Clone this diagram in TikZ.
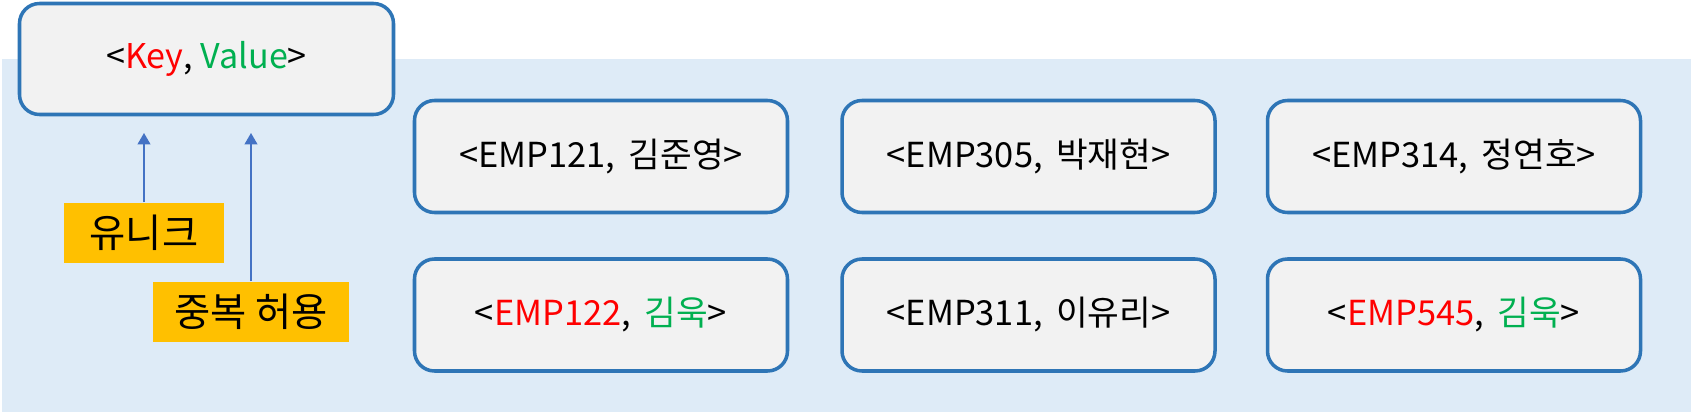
\documentclass[tikz,border=0pt]{standalone}
\usepackage{fontspec}
\setmainfont{Noto Sans CJK KR}
\usetikzlibrary{arrows.meta}
\definecolor{boxline}{RGB}{46,117,182}
\definecolor{boxfill}{RGB}{242,242,242}
\definecolor{bgblue}{RGB}{222,235,247}
\definecolor{tagfill}{RGB}{255,192,0}
\definecolor{keyred}{RGB}{255,0,0}
\definecolor{valgreen}{RGB}{0,176,80}
\definecolor{arrblue}{RGB}{68,114,196}

\begin{document}
\begin{tikzpicture}[
  pairbox/.style={draw=boxline, line width=1pt, fill=boxfill, rounded corners=0.2cm,
    minimum width=3.73cm, minimum height=1.12cm, font=\fontsize{9.8}{11}\selectfont},
  labelbox/.style={fill=tagfill, inner sep=0pt, minimum height=0.6cm,
    font=\fontsize{11.2}{13}\selectfont},
  uparrow/.style={arrblue, line width=0.45pt, -{Triangle[width=3.6pt,length=3.2pt]}}
]
% Key-Value 쌍: 키는 유니크, 값은 중복 허용
\useasboundingbox (0,0) rectangle (16.91,4.12);
\fill[bgblue] (0.02,0) rectangle (16.91,3.53);
\node[pairbox, minimum width=3.74cm, minimum height=1.11cm, font=\fontsize{9.7}{11}\selectfont] (kv) at (2.065,3.53) {<\textcolor{keyred}{Key}, \textcolor{valgreen}{Value}>};
\node[pairbox] (e121) at (6.01,2.555) {<EMP121,\, 김준영>};
\node[pairbox] (e305) at (10.285,2.555) {<EMP305,\, 박재현>};
\node[pairbox] (e314) at (14.54,2.555) {<EMP314,\, 정연호>};
\node[pairbox] (e122) at (6.01,0.97) {<\textcolor{keyred}{EMP122},\, \textcolor{valgreen}{김욱}>};
\node[pairbox] (e311) at (10.285,0.97) {<EMP311,\, 이유리>};
\node[pairbox] (e545) at (14.54,0.97) {<\textcolor{keyred}{EMP545},\, \textcolor{valgreen}{김욱}>};
\node[labelbox, minimum width=1.6cm] (uniq) at (1.44,1.79) {유니크};
\node[labelbox, minimum width=1.96cm] (dup) at (2.51,1.0) {중복 허용};
\coordinate (tip) at (0,2.79);
\draw[uparrow] (uniq.north) -- (uniq.north |- tip);
\draw[uparrow] (dup.north) -- (dup.north |- tip);
\end{tikzpicture}
\end{document}
